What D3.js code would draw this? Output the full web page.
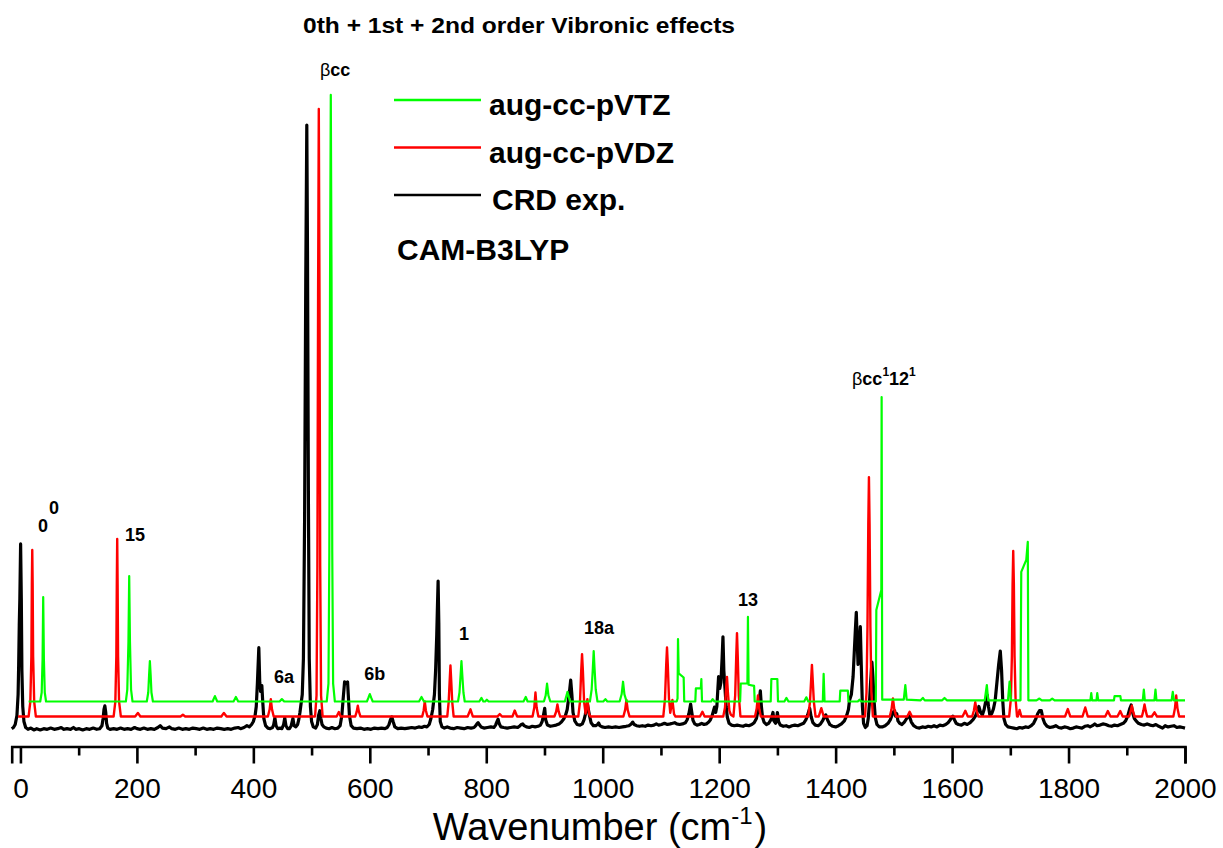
<!DOCTYPE html>
<html>
<head>
<meta charset="utf-8">
<script src="https://cdn.jsdelivr.net/npm/d3@7"></script>
<style>
  html, body { margin: 0; padding: 0; background: #fff; }
  svg { display: block; font-family: "Liberation Sans", Arial, Helvetica, sans-serif; }
</style>
</head>
<body>
<svg id="chart" width="1223" height="848"></svg>
<script>
// ---- spectra: [wavenumber (cm-1), intensity] ----
const crdExp = [
  [-15,0.3],[-12,0.5],[-9,1],[-6,2.5],[-4,6],[-3,11],[-2,17.6],[-1,22],[0.3,31.1],[1.5,22],[2.5,10],[4,4],[6,1.5],[9,0.5],[13,0.2],[18,0.4],[23,0.1],[28,0.3],[34,0.1],[40,0.3],[46,0.2],[52,0.4],[58,0.2],[64,0.3],[70,0.5],[74,0.2],[80,0.3],[86,0.2],[91,0.5],[95,0.2],[101,0.3],[107,0.1],[113,0.3],[119,0.2],[125,0.4],[131,0.2],[136,0.3],[140,0.8],[142,2],[143.5,3.5],[145,4.1],[146.5,3],[148,1.2],[150,0.4],[154,0.2],[160,0.3],[166,0.2],[172,0.4],[178,0.2],[184,0.3],[190,0.2],[196,0.5],[200,0.3],[206,0.2],[212,0.4],[218,0.2],[224,0.3],[230,0.2],[236,0.5],[240,0.8],[244,0.4],[250,0.3],[256,0.6],[260,0.3],[266,0.2],[272,0.4],[278,0.2],[284,0.3],[290,0.2],[296,0.4],[302,0.3],[308,0.2],[314,0.4],[320,0.2],[326,0.3],[332,0.2],[338,0.4],[344,0.3],[350,0.2],[356,0.3],[362,0.2],[368,0.4],[374,0.5],[378,0.3],[384,0.5],[389,0.8],[393,0.6],[397,1],[400,1.5],[403,2.5],[405,4],[407,8],[409.4,13.8],[411,8],[412.5,6.5],[414.6,7.5],[416,5],[418,2],[421,0.8],[425,0.4],[429,0.3],[433,0.5],[435,1],[437,2.1],[439,0.8],[442,0.3],[446,0.4],[449,0.3],[452,1],[454,2.1],[456,0.8],[459,0.3],[462,0.3],[465,0.8],[468,2],[470,0.8],[473,0.6],[476,1],[478,1.8],[480,3],[482,4.5],[484,6],[486,12],[488,35],[490,75],[491.8,100.9],[493,80],[494.5,40],[496,12],[498,4],[500,1.5],[503,0.6],[507,0.4],[510,1],[512,2.5],[514.2,3.3],[516,2],[518,1],[521,0.6],[525,0.4],[530,0.3],[535,0.5],[540,0.3],[545,0.4],[549,0.8],[552,2.5],[554,5],[556.7,8.1],[558,7.8],[560,7.9],[561.8,8.1],[563,6],[565,2.5],[568,0.8],[572,0.4],[578,0.3],[584,0.4],[590,0.2],[596,0.3],[602,0.2],[608,0.4],[614,0.3],[620,0.4],[626,0.3],[630,0.5],[633,1],[635.5,1.8],[637.8,2.25],[640,1.5],[643,0.6],[648,0.3],[654,0.4],[660,0.3],[666,0.4],[672,0.5],[678,0.4],[684,0.6],[689,0.5],[694,0.7],[698,0.6],[702,1],[705,2],[708,3.5],[711,6],[713,10],[715,16],[716,20],[717.3,24.9],[718.5,18],[719.5,6],[721,1.5],[724,0.6],[728,0.4],[733,0.6],[738,0.4],[744,0.3],[750,0.5],[756,0.4],[762,0.3],[768,0.5],[774,0.4],[779,0.5],[782,0.8],[784,1.1],[786,1.3],[788,1],[791,0.6],[796,0.4],[802,0.5],[808,0.6],[813,0.5],[816,0.9],[818,1.4],[820.3,1.9],[822,1.2],[825,0.6],[830,0.5],[836,0.4],[842,0.5],[848,0.6],[854,0.5],[858,0.8],[860,1],[862.7,1.1],[865,0.8],[869,0.6],[874,0.5],[879,0.7],[884,0.6],[889,0.7],[893,0.9],[896,1.5],[898,2.4],[900.4,3.7],[902,1.8],[905,0.9],[910,0.7],[915,0.8],[920,0.9],[925,1.1],[929,1.4],[933,1.9],[936,2.5],[939,3.5],[941,5],[943,6.5],[945,8.4],[947,6],[949,3],[952,1.6],[956,1],[961,0.9],[965,1.1],[968,1.8],[970,2.6],[972,3.6],[973.7,4.4],[975.5,3.4],[977.5,2.4],[980,1.3],[984,0.8],[988,0.8],[991,1],[993,1.25],[995,0.8],[999,0.6],[1004,0.5],[1010,0.6],[1016,0.5],[1022,0.6],[1028,0.5],[1034,0.6],[1040,0.7],[1045,0.8],[1049,1.1],[1051.5,1.4],[1054,1],[1058,0.8],[1063,0.7],[1068,0.8],[1073,0.7],[1078,0.9],[1083,0.8],[1088,0.9],[1092,1.1],[1096,0.9],[1101,1],[1106,1.2],[1111,1],[1116,1.1],[1120,1.2],[1123.6,1.3],[1127,1.1],[1132,1],[1137,1.1],[1142,1.3],[1145,1.8],[1148,2.8],[1151,4.4],[1153,3],[1155,1.7],[1158,1.1],[1162,0.9],[1166,1],[1170,1.2],[1174,1],[1178,1.1],[1182,1.4],[1185,1.8],[1188,2.5],[1190,3.2],[1192,3.9],[1194,3],[1196,4],[1199,9],[1201,7],[1203,8],[1205,12],[1206.5,15.6],[1208,10],[1210,7],[1212,4],[1214,2.2],[1217,1.2],[1221,0.9],[1226,0.8],[1231,0.9],[1236,0.8],[1241,0.7],[1246,0.9],[1251,0.8],[1256,1],[1260,1.3],[1264,2],[1267,3.5],[1269,5],[1270.7,6.6],[1272.5,4],[1274.5,2.2],[1277,1.4],[1281,1],[1285,1.2],[1289,1.8],[1291,2.5],[1292.4,3],[1294,1.6],[1297,1.2],[1299,2.2],[1300,3],[1302,1.5],[1305,0.9],[1310,0.7],[1315,0.8],[1320,0.6],[1325,0.8],[1330,0.9],[1335,0.8],[1340,1],[1345,1.2],[1349,1.8],[1352,2.6],[1355.4,3.7],[1358,2.3],[1361,1.3],[1365,0.9],[1370,0.8],[1374,1.1],[1378,1.7],[1381,2.3],[1383,2.6],[1386,1.8],[1390,1],[1395,0.7],[1400,0.6],[1405,0.8],[1410,1.1],[1415,1.6],[1419,2.5],[1422,3.5],[1424,5.1],[1427,6],[1430,9],[1432,13],[1434,17],[1435.5,19.7],[1437,15],[1438.5,11],[1440,13],[1442.4,17.3],[1444,11],[1446,4],[1448,1.2],[1451,0.5],[1454,0.8],[1456,2],[1458,4.5],[1460,8],[1462.3,11.4],[1464,9],[1466,5],[1468,2.2],[1471,1],[1475,0.6],[1480,0.6],[1485,0.8],[1490,1.2],[1494,1.8],[1497,2.6],[1499,3.1],[1501.3,3.3],[1503,2.4],[1505,2.8],[1507,1.6],[1510,1.2],[1514,1],[1518,1.4],[1522,2],[1525,2.4],[1527,2.3],[1530,1.4],[1534,0.8],[1539,0.5],[1544,0.4],[1549,0.6],[1554,0.5],[1559,0.7],[1564,0.6],[1569,0.8],[1574,0.6],[1579,0.9],[1584,0.8],[1589,1],[1593,1.3],[1597,1.8],[1599.5,2.2],[1601.4,2.4],[1604,1.8],[1607,1.2],[1611,1],[1616,0.9],[1621,1.2],[1626,1],[1631,1.3],[1636,1.8],[1640,2.4],[1643,3.1],[1646,4],[1649,3],[1652,2.6],[1655,3.5],[1658,5],[1660.4,5.9],[1662.5,4],[1665,2.5],[1668,2.8],[1671,3.6],[1674,5],[1677,8],[1680,11],[1682.8,13.25],[1685,10],[1687,5],[1689,2],[1692,1],[1696,0.6],[1701,0.5],[1706,0.4],[1711,0.3],[1716,0.5],[1721,0.4],[1726,0.6],[1731,0.5],[1736,0.8],[1740,1.2],[1744,2],[1747,2.8],[1750,3.3],[1753.2,3.3],[1756,2],[1759,1.2],[1763,0.7],[1768,0.5],[1773,0.6],[1778,0.8],[1783,0.5],[1788,0.4],[1793,0.6],[1798,0.5],[1803,0.3],[1808,0.4],[1813,0.6],[1818,0.5],[1823,0.4],[1828,0.7],[1833,0.8],[1837,0.6],[1841,0.8],[1845,1.1],[1849,0.8],[1854,0.9],[1859,1.1],[1864,1],[1869,0.8],[1874,0.7],[1879,0.9],[1884,0.8],[1889,1],[1894,1.2],[1898,1.6],[1902,2.5],[1905,3.6],[1907.6,4.25],[1910,3],[1913,2],[1916,1.6],[1920,1.2],[1925,1],[1930,0.9],[1935,1.1],[1940,0.9],[1945,0.8],[1950,1],[1955,0.7],[1961.4,0.4],[1966,0.8],[1971,0.6],[1976,0.7],[1981,0.8],[1986,0.5],[1991,0.6],[1996,0.5],[2000,0.4]
];

const augVDZ = [
  [-4,0],[14,0],[17,2.5],[18.8,10],[19.6,22],[20.3,27.75],[21,22],[21.8,10],[23.6,2.5],[26.5,0],[160,0],[163,2.5],[164.7,10],[165.5,22],[166.2,29.6],[166.9,22],[167.7,10],[169.4,2.5],[172.5,0],[197,0],[201.7,0.6],[206,0],[275,0],[279,0.3],[283,0],[345,0],[349.4,0.6],[354,0],[425,0],[428,1.2],[430,2.9],[432,1.2],[435,0],[506,0],[508.5,3.5],[510,25],[511.2,70],[512.4,101.25],[513.6,70],[514.8,25],[516.3,3.5],[519,0],[543,0],[546.8,0.75],[550,0],[575,0],[577.5,0.8],[579.4,1.8],[581.3,0.8],[584,0],[690,0],[692.5,1],[694.4,2.5],[696.3,1],[699,0],[733,0],[735.5,2.5],[737.2,6],[738.5,8.5],[739.8,6],[741.5,2.5],[744,0],[768,0],[772.9,1.2],[777,0],[819,0],[823.2,0.4],[827,0],[845,0],[848.9,1],[853,0],[879.5,0],[882.5,1.5],[884.5,4],[886.5,1.5],[889.5,0],[917,0],[920,0.8],[922.2,2],[924.4,0.8],[927,0],[958,0],[961,2.5],[963,7.5],[964.5,10.4],[966,7.5],[968,2.5],[970.5,0.5],[973.7,2.9],[976.5,0.4],[979,0],[1035.5,0],[1038.5,1.1],[1040.7,2.75],[1042.9,1.1],[1046,0],[1104,0],[1107,3],[1109,8.5],[1110.4,11.5],[1111.8,8.5],[1113.8,3],[1116,0.6],[1119.7,2.75],[1122.5,0.4],[1125,0],[1167,0],[1171.2,0.8],[1175,0],[1207,0],[1210,1.5],[1212,4.8],[1213.4,6.6],[1215,4],[1217.5,1],[1220,0.3],[1224.5,0],[1227.5,3.5],[1229.3,10],[1230.6,13.9],[1231.9,10],[1233.7,3.5],[1236.5,0],[1261.5,0],[1264.5,1.4],[1266.6,3.5],[1268.7,1.4],[1271.5,0],[1353,0],[1356,2.5],[1358,6.2],[1359.3,8.6],[1360.6,6.2],[1362.6,2.5],[1365.5,0],[1371,0],[1375.4,1.4],[1379.5,0],[1450.5,0],[1453,4],[1454.7,15],[1456.1,32],[1457.2,39.9],[1458.3,32],[1459.7,15],[1461.4,4],[1464,0],[1493,0],[1496,1.2],[1498.4,3],[1500.8,1.2],[1504,0],[1523,0],[1527.1,0.8],[1531,0],[1618,0],[1622.7,0.95],[1627,0],[1634.5,0],[1637.5,1],[1639.8,2.4],[1642.1,1],[1645,0],[1698,0],[1701,3],[1702.7,10],[1703.9,22],[1705,27.6],[1706.1,22],[1707.3,10],[1709,3],[1711.5,0],[1713,0],[1715.9,1.1],[1719,0],[1794,0],[1798.8,1.25],[1803,0],[1824,0],[1828.7,1.5],[1833,0],[1863,0],[1867.5,0.9],[1872,0],[1884,0],[1888.8,0.9],[1893,0],[1904,0],[1906.5,0.8],[1908.7,1.8],[1910.9,0.8],[1913.5,0],[1926,0],[1928.3,0.9],[1930.5,2],[1932.7,0.9],[1935,0],[1943,0],[1947.6,0.7],[1952,0],[1980,0],[1982.8,1.4],[1984.9,3.5],[1987,1.4],[1990,0],[2000,0]
];

const augVTZ = [
  [14,0],[34,0],[36.5,1.5],[38,7],[39.1,17.4],[40.3,7],[41.8,1.5],[44,0],[181,0],[183.5,2],[185.5,10],[186.8,20.9],[188.1,10],[190,2],[192.5,0],[217,0],[219.5,1.5],[221,4.5],[222.3,6.75],[223.6,4.5],[225,1.5],[227.5,0],[330,0],[334,0.9],[338,0],[366,0],[370,0.75],[374,0],[445,0],[449,0.4],[453,0],[526,0],[529,3],[530.5,25],[531.7,70],[533,101.1],[534.3,70],[535.5,25],[537,3],[540,0],[595,0],[597.5,0.6],[600,1.25],[602.5,0.6],[605,0],[684.5,0],[688.8,0.75],[693,0],[751.5,0],[754,1.5],[756,4.5],[757.4,6.75],[758.8,4.5],[760.8,1.5],[763,0],[788,0],[791.8,0.6],[795,0],[798,0],[801,0.3],[804,0],[864,0],[867.8,0.75],[871,0],[899,0],[902,1],[904.4,3],[906.8,1],[910,0],[935,0],[939.4,1.6],[944,0],[978,0],[981,2],[983,5.5],[984.5,8.4],[986,5.5],[988,2],[991,0],[1001,0],[1004.6,0.4],[1008,0],[1029,0],[1032.5,1.2],[1034.9,3.3],[1037.3,1.2],[1041,0],[1127,0],[1128.5,0.5],[1129.3,10.4],[1130.5,4.7],[1139,4.0],[1140,0],[1159,0],[1160,2.2],[1168.5,2.2],[1169.4,3.75],[1170.5,0],[1186,0],[1188.8,0.4],[1192,0],[1236,0],[1237,3],[1248.5,3],[1249.4,14.1],[1250.5,2.8],[1260,2.6],[1261,0],[1288.5,0],[1289.6,3.75],[1299.9,3.75],[1301,0],[1312,0],[1315.4,0.6],[1319,0],[1346,0],[1349.7,0.7],[1353,0],[1378,0],[1379.4,4.6],[1381,0],[1407,0],[1408,1.8],[1421,1.8],[1422,0],[1438,0],[1441,0.3],[1444,0],[1469,0],[1469.9,15.25],[1478.5,18.6],[1479,50.75],[1480,0.3],[1500,0.3],[1517,0.3],[1519.7,2.75],[1522,0.3],[1546,0.2],[1549.8,0.6],[1553,0.2],[1583,0.2],[1587,0.6],[1591,0.2],[1620,0.2],[1656,0.2],[1659.7,2.75],[1662,0.2],[1696,0.2],[1698.7,3.3],[1701,0.2],[1717.5,0.2],[1718.8,21.6],[1727.4,23.6],[1730,26.6],[1731,0.2],[1745,0.2],[1750,0.5],[1754,0.2],[1768,0.2],[1772,0.5],[1776,0.2],[1800,0.2],[1837.5,0.2],[1839,1.4],[1840.5,0.2],[1848,0.2],[1849.3,1.4],[1851,0.2],[1878,0.2],[1879,0.9],[1889,0.9],[1890,0.2],[1927.5,0.2],[1929.3,2],[1931,0.2],[1947.5,0.2],[1949.3,2],[1951,0.2],[1977,0.2],[1979,1.6],[1981,0.2],[2000,0.2]
];

// series names, colours and vertical stacking offsets (intensity units)
const seriesNames   = ["CRD exp.", "aug-cc-pVDZ", "aug-cc-pVTZ"];
const seriesData    = [crdExp, augVDZ, augVTZ];
const seriesColors  = ["#000000", "#ff0000", "#00ff00"];
const seriesOffsets = [0, 2.33, 4.83];
const seriesWidths  = [3.2, 2.4, 2.2];

// legend order (top to bottom)
const legendNames  = ["aug-cc-pVTZ", "aug-cc-pVDZ", "CRD exp."];
const legendColors = ["#00ff00", "#ff0000", "#000000"];

// axis ticks
const majorTicks = [0, 200, 400, 600, 800, 1000, 1200, 1400, 1600, 1800, 2000];
const minorTicks = [100, 300, 500, 700, 900, 1100, 1300, 1500, 1700, 1900];

// band assignments: [label, superscript, wavenumber position, intensity position]
const bandLabels = [
  ["0", "0", 30.2, 33.1],
  ["15", "", 179.6, 31.6],
  ["6a", "", 435.4, 7.9],
  ["6b", "", 590.5, 8.4],
  ["1", "", 753.2, 15.1],
  ["18a", "", 967.8, 16.1],
  ["13", "", 1232.3, 20.75]
];

const svg = d3.select("#chart");
const x = d3.scaleLinear().domain([-15, 2000]).range([11.7, 1185]);
const y = d3.scaleLinear().domain([0, 100]).range([730.5, 130.5]);

// spectra
const line = d3.line().x(d => x(d[0]));
seriesData.forEach((data, i) => {
  svg.append("path")
    .datum(data)
    .attr("fill", "none")
    .attr("stroke", seriesColors[i])
    .attr("stroke-width", seriesWidths[i])
    .attr("stroke-linejoin", "round")
    .attr("d", line.y(d => y(d[1] + seriesOffsets[i])));
});

// x axis
const axisY = 746.5;
const gAxis = svg.append("g").attr("transform", `translate(0,${axisY})`)
  .call(d3.axisBottom(x).tickValues(majorTicks).tickSize(17).tickPadding(14.5).tickFormat(d3.format("d")));
gAxis.select(".domain").attr("stroke-width", 2.6);
gAxis.selectAll(".tick line").attr("stroke-width", 2.6);
gAxis.selectAll(".tick text").attr("font-size", 28).attr("font-family", "Liberation Sans, Arial, sans-serif").attr("fill", "#000");

const gMinor = svg.append("g").attr("transform", `translate(0,${axisY})`)
  .call(d3.axisBottom(x).tickValues(minorTicks).tickSize(9).tickFormat(""));
gMinor.select(".domain").remove();
gMinor.selectAll(".tick line").attr("stroke-width", 2.6);

// axis title
const xt = svg.append("text").attr("x", 600).attr("y", 840).attr("text-anchor", "middle")
  .attr("font-size", 38).attr("fill", "#000");
xt.append("tspan").text("Wavenumber (cm");
xt.append("tspan").attr("font-size", 24).attr("dy", -16).text("-1");
xt.append("tspan").attr("dx", 2).attr("dy", 16).text(")");

// title
svg.append("text").attr("x", 303).attr("y", 33).attr("font-size", 22).attr("font-weight", "bold")
  .attr("textLength", 432).attr("lengthAdjust", "spacingAndGlyphs")
  .text("0th + 1st + 2nd order Vibronic effects");

// legend
legendNames.forEach((name, i) => {
  const ly = 100 + i * 47.5;
  svg.append("line").attr("x1", 394).attr("x2", 481).attr("y1", ly).attr("y2", ly)
    .attr("stroke", legendColors[i]).attr("stroke-width", 2.5);
  svg.append("text").attr("x", i === 2 ? 492 : 489).attr("y", ly + 15)
    .attr("font-size", 30).attr("font-weight", "bold").text(name);
});
svg.append("text").attr("x", 397).attr("y", 260).attr("font-size", 30).attr("font-weight", "bold")
  .text("CAM-B3LYP");

// band labels
bandLabels.forEach(([lab, sup, wx, wy]) => {
  const t = svg.append("text").attr("x", x(wx)).attr("y", y(wy))
    .attr("font-size", 18).attr("font-weight", "bold");
  t.append("tspan").text(lab);
  if (sup) t.append("tspan").attr("dx", 1).attr("dy", -18).text(sup);
});

// βcc label over the strongest band
const tb = svg.append("text").attr("x", 320).attr("y", 76).attr("font-size", 18);
tb.append("tspan").text("β");
tb.append("tspan").attr("font-weight", "bold").text("cc");

// βcc¹12¹ combination band label
const tc = svg.append("text").attr("x", 852).attr("y", 385).attr("font-size", 18);
tc.append("tspan").text("β");
tc.append("tspan").attr("font-weight", "bold").text("cc");
tc.append("tspan").attr("font-size", 12).attr("font-weight", "bold").attr("dy", -9).text("1");
tc.append("tspan").attr("font-weight", "bold").attr("dy", 9).text("12");
tc.append("tspan").attr("font-size", 12).attr("font-weight", "bold").attr("dy", -9).text("1");
</script>
</body>
</html>
